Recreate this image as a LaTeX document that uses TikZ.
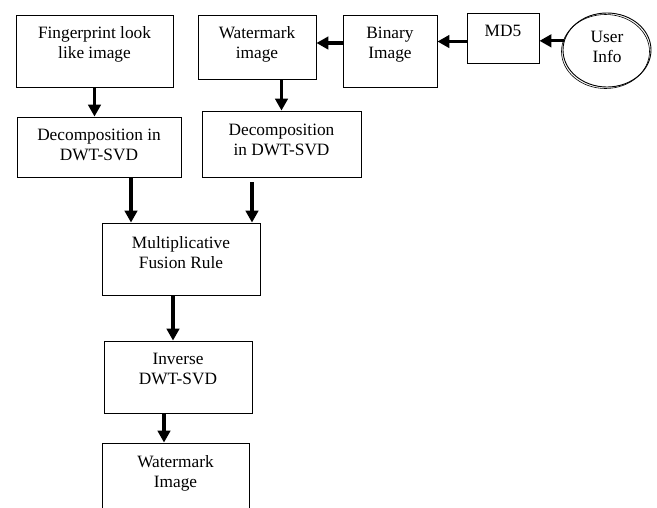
\documentclass[tikz,border=0pt]{standalone}
\usepackage{fontspec}
\setmainfont{Liberation Serif}
\usetikzlibrary{arrows.meta,shapes.geometric}
\newcommand{\twol}[2]{\begin{tabular}[t]{@{}c@{}}#1\\#2\end{tabular}}
\begin{document}
\begin{tikzpicture}[x=1pt,y=-1pt,
  box/.style={draw, line width=0.9pt, rectangle, inner sep=0pt},
  lbl/.style={anchor=base, inner sep=0pt, font=\fontsize{17.3}{19.5}\selectfont},
  arr/.style={line width=3.2pt, -{Triangle[length=12pt,width=12.5pt]}}]
\useasboundingbox (0,0) rectangle (657,507);
% boxes
\node[box, minimum width=157pt, minimum height=72pt] (fp) at (94.5,51) {};
\node[box, minimum width=118pt, minimum height=64pt] (wm) at (257,47) {};
\node[box, minimum width=94pt, minimum height=72pt] (bin) at (390,51) {};
\node[box, minimum width=72pt, minimum height=50pt] (md5) at (503,38) {};
\node[draw, line width=0.9pt, ellipse, inner sep=0pt, minimum width=88pt, minimum height=74pt] (user) at (607,50) {};
\draw[line width=0.6pt] (605.5,51.5) ellipse [x radius=44, y radius=37];
\node[box, minimum width=164pt, minimum height=60pt] (dec1) at (99,147) {};
\node[box, minimum width=159pt, minimum height=66pt] (dec2) at (281.5,144) {};
\node[box, minimum width=158pt, minimum height=72pt] (fus) at (181,259) {};
\node[box, minimum width=148pt, minimum height=72pt] (inv) at (178,377) {};
\node[box, minimum width=147pt, minimum height=80pt] (wmi) at (175.5,483) {};
% labels
\node[lbl] (tfp) at (94.5,38.5) {\twol{Fingerprint look}{like image}};
\node[lbl] (twm) at (257,38.5) {\twol{Watermark}{image}};
\node[lbl] (tbin) at (390,38.5) {\twol{Binary}{Image}};
\node[lbl] (tmd5) at (503,36.5) {MD5};
\node[lbl] (tuser) at (607,42.5) {\twol{User}{Info}};
\node[lbl] (tdec1) at (99,140.5) {\twol{Decomposition in}{DWT-SVD}};
\node[lbl] (tdec2) at (281.5,135.5) {\twol{Decomposition}{in DWT-SVD}};
\node[lbl] (tfus) at (181,248.5) {\twol{Multiplicative}{Fusion Rule}};
\node[lbl] (tinv) at (178,364.5) {\twol{Inverse}{DWT-SVD}};
\node[lbl] (twmi) at (175.5,467.5) {\twol{Watermark}{Image}};
% connectors
\draw[arr] (fp.south) -- (fp.south |- dec1.north);
\draw[arr] (dec2.north |- wm.south) -- (dec2.north);
\path ([yshift=8pt]bin.west) coordinate (b1);
\draw[arr] (b1) -- (b1 -| wm.east);
\path ([yshift=-3.5pt]md5.west) coordinate (m1);
\draw[arr] (m1) -- (m1 -| bin.east);
\draw[arr] (user.168) -- (user.168 -| md5.east);
\path ([xshift=32pt]dec1.south) coordinate (d1);
\draw[arr] (d1) -- (d1 |- fus.north);
\path ([xshift=-29.5pt,yshift=-5pt]dec2.south) coordinate (d2);
\draw[arr] (d2) -- (d2 |- fus.north);
\path ([xshift=-8pt]fus.south) coordinate (f1);
\draw[arr] (f1) -- (f1 |- inv.north);
\path ([xshift=-14pt]inv.south) coordinate (i1);
\draw[arr] (i1) -- (i1 |- wmi.north);
\end{tikzpicture}
\end{document}
